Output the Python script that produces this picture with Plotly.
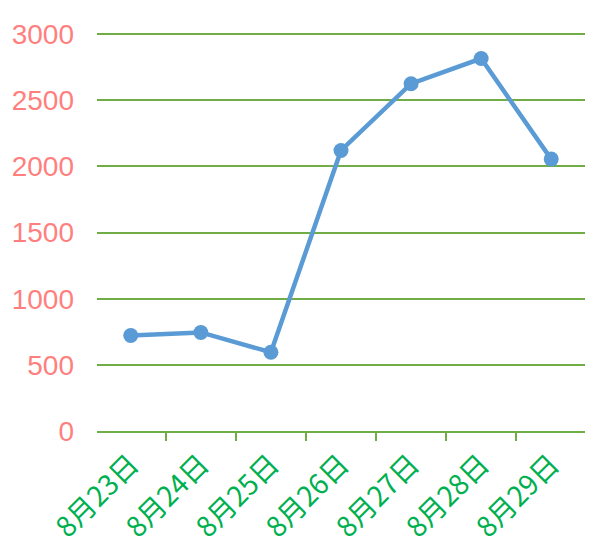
import plotly.graph_objects as go

categories = ["8月23日", "8月24日", "8月25日", "8月26日", "8月27日", "8月28日", "8月29日"]
values = [722, 745, 595, 2120, 2625, 2815, 2055]
y_ticks = [0, 500, 1000, 1500, 2000, 2500, 3000]

fig = go.Figure(go.Scatter(
    x=categories, y=values, mode="lines+markers",
    line=dict(color="#5B9BD5", width=4.5),
    marker=dict(color="#5B9BD5", size=15),
    cliponaxis=False,
))

fig.update_layout(
    width=612, height=560,
    margin=dict(l=89, r=35, t=25, b=137),
    plot_bgcolor="white", paper_bgcolor="white",
    showlegend=False,
    font=dict(family="Liberation Sans, Arial, Noto Sans CJK SC, sans-serif"),
)
fig.update_xaxes(
    type="category", automargin=False,
    showline=True, linecolor="#70AD47", linewidth=2,
    ticks="outside", tickson="boundaries", ticklen=8, tickcolor="#70AD47", tickwidth=2,
    tickangle=-45, ticklabelstandoff=4,
    tickfont=dict(color="#00B050", size=28, family="Noto Sans CJK SC, Liberation Sans, sans-serif"),
    showgrid=False, zeroline=False,
)
fig.update_yaxes(
    range=[0, 3008], tickvals=y_ticks, automargin=False,
    showgrid=True, gridcolor="#70AD47", gridwidth=2,
    zeroline=False, showline=False,
    ticks="", ticklabelstandoff=22,
    tickfont=dict(color="#FF7F7F", size=28, family="Liberation Sans, Arial, sans-serif"),
)

fig.write_html("out.html")
